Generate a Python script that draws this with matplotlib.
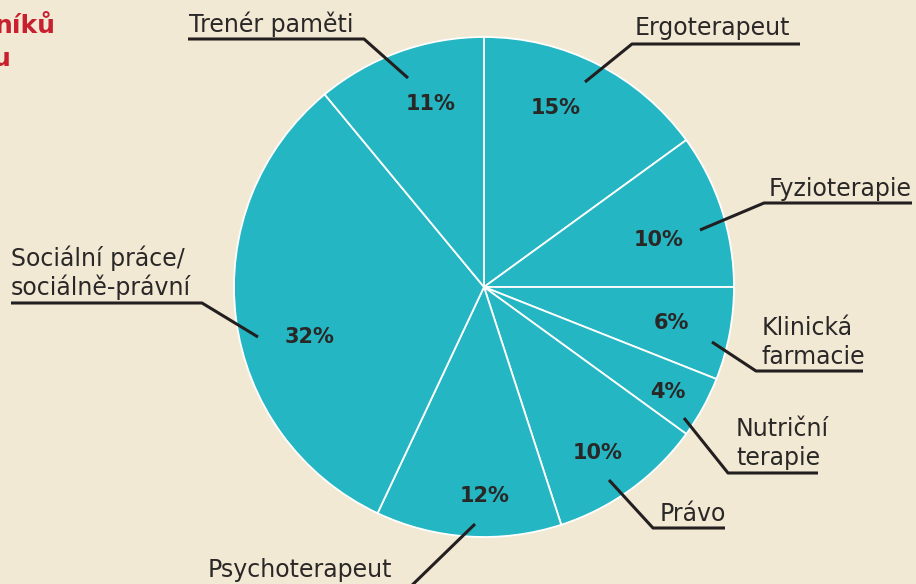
import matplotlib
matplotlib.use("Agg")
import matplotlib.pyplot as plt

# ---------------- data ----------------
categories = ["Ergoterapeut", "Fyzioterapie", "Klinická farmacie", "Nutriční terapie",
              "Právo", "Psychoterapeut", "Sociální práce/ sociálně-právní", "Trenér paměti"]
values = [15, 10, 6, 4, 10, 12, 32, 11]
label_lines = [["Ergoterapeut"], ["Fyzioterapie"], ["Klinická", "farmacie"], ["Nutriční", "terapie"],
               ["Právo"], ["Psychoterapeut"], ["Sociální práce/", "sociálně-právní"], ["Trenér paměti"]]

# ---------------- style / layout ----------------
W, H = 916, 584
BG = "#F2E9D4"
TEAL = "#24B7C3"
TXT = "#2A2727"
RED = "#C8202F"
CX, CY, R = 484, 287, 250

# percent-label anchors (x, baseline) in pixel coords (y from top)
pct_pos = [(556, 114), (659, 246), (671, 329), (668, 398), (598, 459), (485, 502), (309, 343), (431, 110)]
# category label: (left x, first baseline, line step)
lab_pos = [(635, 35, 0), (769, 196, 0), (762, 335, 29), (736, 436, 29), (660, 521, 0),
           (208, 577, 0), (11, 266, 29), (189, 32, 0)]
# leader polylines
leaders = [
    [(585, 82), (632, 44), (800, 44)],
    [(700, 230), (764, 203), (912, 203)],
    [(712, 342), (756, 371), (863, 371)],
    [(684, 418), (728, 473), (818, 473)],
    [(609, 480), (653, 528), (725, 528)],
    [(475, 524), (405, 592), (200, 592)],
    [(258, 337), (202, 303), (11, 303)],
    [(408, 78), (364, 39), (188, 39)],
]

def fy(y):
    return H - y

fig = plt.figure(figsize=(W / 100, H / 100), dpi=100, facecolor=BG)
ax = fig.add_axes([0, 0, 1, 1])
ax.set_facecolor(BG)

wedges, _ = ax.pie(values, startangle=90, counterclock=False, colors=[TEAL] * len(values),
                   center=(CX, fy(CY)), radius=R,
                   wedgeprops=dict(edgecolor="white", linewidth=1.3))
ax.set_xlim(0, W)
ax.set_ylim(0, H)
ax.set_aspect("auto")
ax.axis("off")

for v, (px, py) in zip(values, pct_pos):
    ax.text(px, fy(py), f"{v}%", ha="center", va="baseline", fontsize=15,
            fontweight="bold", color=TXT, family="DejaVu Sans")

for lines, (lx, ly, step) in zip(label_lines, lab_pos):
    for i, t in enumerate(lines):
        ax.text(lx, fy(ly + i * step), t, ha="left", va="baseline", fontsize=17,
                color=TXT, family="DejaVu Sans")

for pts in leaders:
    xs = [p[0] for p in pts]
    ys = [fy(p[1]) for p in pts]
    ax.plot(xs, ys, color="#231F20", lw=2.2, solid_capstyle="butt", clip_on=True)

# clipped title fragment (partly outside the canvas, as in the reference)
ax.text(-5, fy(33), "níků", ha="left", va="baseline", fontsize=18, fontweight="bold", color=RED)
ax.text(-7, fy(66), "u", ha="left", va="baseline", fontsize=18, fontweight="bold", color=RED)

fig.savefig("out.png", dpi=100, facecolor=BG)
